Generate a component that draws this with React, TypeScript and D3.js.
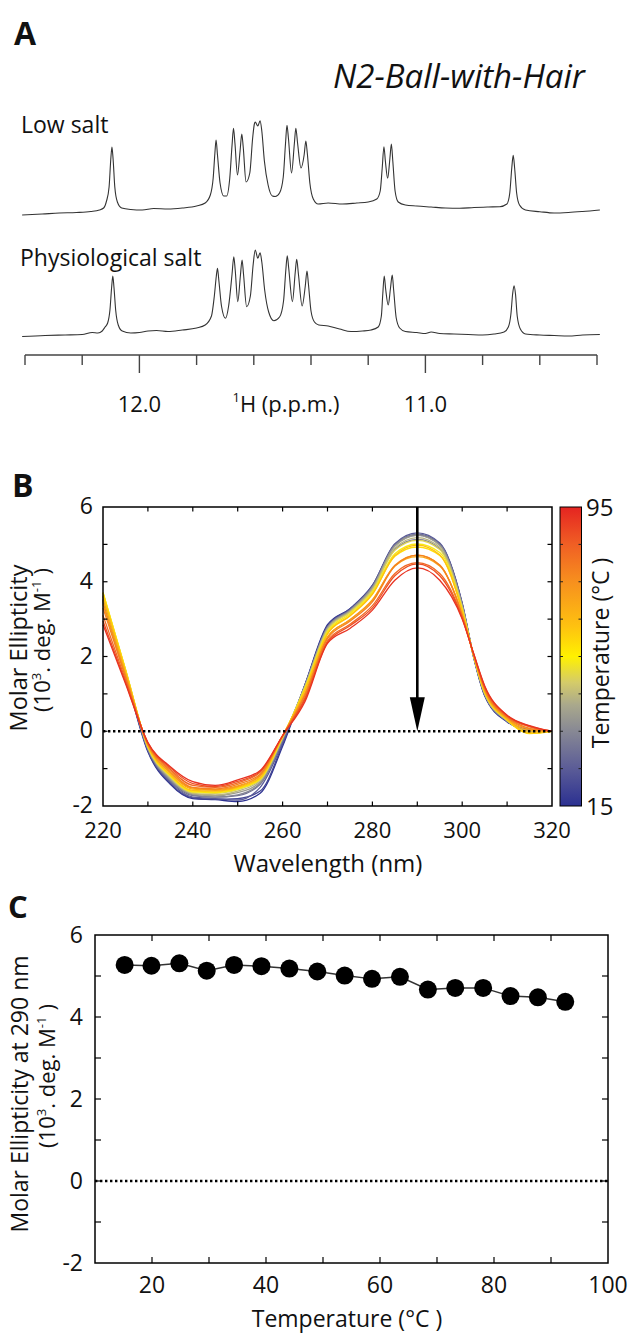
import React from 'react';
import * as d3 from 'd3';

const FONT = '"Open Sans", "Noto Sans", sans-serif';

// ---------- Panel A: 1H NMR imino region (key points [ppm, intensity]) ----------
const lowSaltTrace: [number, number][] = [
  [12.41, -2], [12.34, -1], [12.28, 0], [12.22, 0.5], [12.17, 1.5], [12.14, 3], [12.125, 5],
  [12.115, 12], [12.106, 26], [12.1, 54], [12.096, 66], [12.092, 54], [12.086, 26], [12.077, 11],
  [12.062, 5], [12.03, 3.5], [11.99, 3], [11.95, 4.5], [11.9, 4], [11.85, 5], [11.8, 7], [11.77, 10], [11.752, 18],
  [11.742, 35], [11.736, 60], [11.732, 73], [11.727, 58], [11.718, 30], [11.705, 17], [11.695, 17],
  [11.684, 35], [11.676, 68], [11.671, 84.7], [11.666, 70], [11.657, 38], [11.648, 62], [11.642, 79],
  [11.637, 66], [11.627, 31], [11.614, 40], [11.604, 75], [11.598, 89], [11.595, 91], [11.586, 87],
  [11.578, 92.3], [11.572, 82], [11.563, 52], [11.55, 28], [11.535, 17], [11.525, 16.5], [11.51, 20],
  [11.497, 36], [11.489, 70], [11.484, 87.7], [11.479, 75], [11.468, 40], [11.458, 70], [11.453, 84.7],
  [11.447, 70], [11.435, 45], [11.424, 58], [11.418, 72], [11.413, 60], [11.404, 30], [11.392, 14], [11.375, 9],
  [11.34, 10], [11.29, 9], [11.24, 10], [11.2, 11], [11.17, 14], [11.158, 22],
  [11.151, 45], [11.145, 66.3], [11.14, 52], [11.132, 34.7], [11.124, 55], [11.119, 69], [11.114, 52],
  [11.106, 22], [11.095, 11],
  [11.07, 8], [11.03, 7], [10.98, 6], [10.93, 5], [10.88, 4.7], [10.83, 5.5], [10.78, 6], [10.74, 6.3], [10.715, 9],
  [10.705, 20], [10.698, 45], [10.693, 57.7], [10.688, 45], [10.681, 20], [10.671, 8],
  [10.65, 3], [10.6, 1.3], [10.55, 0], [10.5, 0.5], [10.45, 1.5], [10.39, 3],
];

const physSaltTrace: [number, number][] = [
  [12.41, -0.5], [12.33, 0.5], [12.26, 1], [12.2, 1.5], [12.165, 3.5], [12.145, 3], [12.13, 5], [12.12, 9],
  [12.111, 13], [12.103, 26], [12.097, 49], [12.093, 60], [12.089, 49], [12.083, 26], [12.074, 11],
  [12.06, 5], [12.03, 3], [12.0, 3.5], [11.97, 5], [11.94, 5.5], [11.9, 4.5], [11.85, 6], [11.8, 8], [11.77, 11], [11.748, 20],
  [11.738, 40], [11.731, 60], [11.727, 67.7], [11.722, 55], [11.713, 30], [11.699, 17.7], [11.688, 30],
  [11.676, 62], [11.67, 79.3], [11.665, 66], [11.656, 34.3], [11.647, 60], [11.641, 76], [11.636, 62],
  [11.625, 29.3], [11.612, 40], [11.602, 72], [11.595, 86], [11.586, 77.7], [11.578, 83.3], [11.572, 74],
  [11.562, 46], [11.548, 24], [11.53, 15.3], [11.51, 19], [11.496, 35], [11.488, 66], [11.483, 80.3],
  [11.478, 68], [11.465, 34.3], [11.455, 64], [11.45, 76.7], [11.444, 62], [11.431, 30], [11.42, 50],
  [11.414, 65], [11.409, 52], [11.4, 25], [11.388, 14], [11.373, 11],
  [11.34, 10], [11.3, 7], [11.26, 4.5], [11.22, 5], [11.19, 6], [11.165, 9], [11.154, 20],
  [11.149, 42], [11.144, 60], [11.139, 47], [11.13, 31], [11.122, 48], [11.116, 61], [11.111, 46],
  [11.102, 18], [11.09, 8],
  [11.07, 4.5], [11.03, 3.5], [11.0, 2.5], [10.98, 4], [10.95, 2.5], [10.9, 2], [10.85, 1.5], [10.8, 1],
  [10.76, 2], [10.725, 4], [10.71, 9],
  [10.701, 22], [10.695, 42], [10.69, 50.3], [10.685, 42], [10.679, 20], [10.668, 7],
  [10.65, 2], [10.6, 1], [10.55, 0.5], [10.5, 0], [10.45, 1], [10.39, 1.5],
];

const ppmTicks = [12.4, 12.2, 12.0, 11.8, 11.6, 11.4, 11.2, 11.0, 10.8, 10.6, 10.4];
const ppmMajor = [12.0, 11.0];

// ---------- Panel B: CD spectra at increasing temperature ----------
const wavelengths = [220, 225, 230, 235, 240, 245, 250, 255, 260, 265, 270, 275, 280, 285, 290, 295, 300, 302.5, 305, 310, 315, 320];
const cdTemps = [15.2, 19.9, 24.8, 29.6, 34.4, 39.2, 44.1, 49.0, 53.8, 58.6, 63.5, 68.4, 73.2, 78.1, 82.9, 87.7, 92.5];
const cdSpectra = [
  [3.45, 1.5, -0.55, -1.42, -1.8, -1.83, -1.88, -1.66, -0.4, 1.25, 2.85, 3.28, 3.9, 5.0, 5.27, 5.02, 3.4, 2.0, 0.95, 0.25, 0.03, 0.0],
  [3.5, 1.52, -0.52, -1.4, -1.78, -1.82, -1.8, -1.6, -0.35, 1.25, 2.82, 3.27, 3.88, 4.98, 5.25, 5.0, 3.42, 2.02, 0.97, 0.27, 0.04, 0.01],
  [3.52, 1.55, -0.5, -1.36, -1.76, -1.8, -1.84, -1.5, -0.3, 1.24, 2.8, 3.26, 3.9, 5.02, 5.31, 5.04, 3.43, 2.02, 0.98, 0.27, 0.03, 0.0],
  [3.55, 1.56, -0.48, -1.33, -1.72, -1.76, -1.72, -1.42, -0.25, 1.22, 2.76, 3.22, 3.84, 4.86, 5.13, 4.88, 3.36, 2.03, 1.0, 0.28, 0.04, 0.0],
  [3.6, 1.6, -0.47, -1.3, -1.7, -1.76, -1.7, -1.4, -0.22, 1.22, 2.78, 3.24, 3.86, 4.98, 5.27, 5.0, 3.38, 2.02, 0.99, 0.27, 0.02, 0.0],
  [3.62, 1.62, -0.45, -1.28, -1.68, -1.72, -1.64, -1.36, -0.2, 1.22, 2.76, 3.22, 3.84, 4.95, 5.24, 4.97, 3.36, 2.03, 1.0, 0.28, 0.0, 0.0],
  [3.65, 1.64, -0.44, -1.25, -1.66, -1.7, -1.6, -1.32, -0.18, 1.2, 2.74, 3.2, 3.8, 4.9, 5.18, 4.92, 3.33, 2.03, 1.02, 0.29, -0.02, 0.0],
  [3.7, 1.66, -0.42, -1.22, -1.64, -1.66, -1.56, -1.3, -0.16, 1.18, 2.7, 3.18, 3.76, 4.84, 5.11, 4.86, 3.3, 2.04, 1.03, 0.3, -0.04, 0.01],
  [3.72, 1.66, -0.41, -1.2, -1.62, -1.64, -1.54, -1.28, -0.15, 1.15, 2.66, 3.14, 3.72, 4.75, 5.01, 4.78, 3.26, 2.04, 1.04, 0.3, -0.05, 0.0],
  [3.7, 1.64, -0.4, -1.18, -1.6, -1.62, -1.52, -1.26, -0.14, 1.12, 2.62, 3.1, 3.68, 4.68, 4.93, 4.7, 3.22, 2.05, 1.06, 0.31, -0.06, 0.0],
  [3.62, 1.6, -0.39, -1.16, -1.58, -1.6, -1.5, -1.24, -0.13, 1.1, 2.6, 3.08, 3.66, 4.7, 4.98, 4.72, 3.22, 2.05, 1.07, 0.32, -0.04, 0.0],
  [3.5, 1.56, -0.37, -1.12, -1.55, -1.58, -1.48, -1.2, -0.12, 1.02, 2.52, 2.98, 3.52, 4.42, 4.67, 4.42, 3.12, 2.06, 1.1, 0.34, 0.02, 0.0],
  [3.4, 1.5, -0.36, -1.1, -1.52, -1.56, -1.46, -1.18, -0.12, 1.0, 2.52, 2.98, 3.5, 4.44, 4.71, 4.45, 3.12, 2.06, 1.12, 0.36, 0.06, 0.01],
  [3.3, 1.45, -0.34, -1.06, -1.5, -1.54, -1.42, -1.15, -0.12, 0.96, 2.48, 2.94, 3.46, 4.42, 4.71, 4.44, 3.1, 2.07, 1.14, 0.38, 0.08, 0.0],
  [3.1, 1.38, -0.32, -1.02, -1.45, -1.5, -1.38, -1.1, -0.12, 0.9, 2.42, 2.86, 3.36, 4.22, 4.51, 4.22, 3.05, 2.08, 1.17, 0.4, 0.12, 0.01],
  [2.95, 1.32, -0.31, -0.98, -1.4, -1.48, -1.34, -1.08, -0.12, 0.86, 2.38, 2.82, 3.3, 4.16, 4.48, 4.16, 3.02, 2.09, 1.2, 0.42, 0.14, 0.0],
  [2.85, 1.28, -0.3, -0.95, -1.35, -1.45, -1.3, -1.05, -0.12, 0.8, 2.35, 2.75, 3.24, 4.04, 4.37, 4.04, 3.0, 2.1, 1.22, 0.43, 0.15, 0.0],
];
const cdXTicks = [220, 230, 240, 250, 260, 270, 280, 290, 300, 310, 320];
const cdXLabels = [220, 240, 260, 280, 300, 320];
const cdYTicks = [-2, -1, 0, 1, 2, 3, 4, 5, 6];
const cdYLabels = [-2, 0, 2, 4, 6];
const arrowWavelength = 290;

// colour map of the temperature bar
const cmapTemps = [15, 25, 35, 42, 48, 55, 63, 75, 85, 95];
const cmapColors = ['#2b3091', '#5b5c97', '#878894', '#a9a88c', '#d4cb6a', '#fff100', '#fec210', '#f7901e', '#f05f24', '#e52421'];
const cbTicks = [25, 35, 45, 55, 65, 75, 85];
const cbLabels = [15, 95];

// ---------- Panel C: ellipticity at 290 nm vs temperature ----------
const meltTemps = [15.2, 19.9, 24.8, 29.6, 34.4, 39.2, 44.1, 49.0, 53.8, 58.6, 63.5, 68.4, 73.2, 78.1, 82.9, 87.7, 92.5];
const meltValues = [5.27, 5.25, 5.31, 5.13, 5.27, 5.24, 5.18, 5.11, 5.01, 4.93, 4.98, 4.67, 4.71, 4.71, 4.51, 4.48, 4.37];
const meltXTicks = [20, 30, 40, 50, 60, 70, 80, 90];
const meltXLabels = [20, 40, 60, 80, 100];
const meltYTicks = [-1, 0, 1, 2, 3, 4, 5];
const meltYLabels = [-2, 0, 2, 4, 6];

const UnitsLabel = ({ x, y, size }: { x: number; y: number; size: number }) => (
  <text transform={`translate(${x},${y}) rotate(-90)`} textAnchor="middle" fontSize={size}>
    (10<tspan dy={-9} fontSize={size * 0.6}>3</tspan>
    <tspan dy={9}>. deg. M</tspan>
    <tspan dy={-9} fontSize={size * 0.6}>-1</tspan>
    <tspan dy={9}> )</tspan>
  </text>
);

export default function App() {
  // Panel A scales
  const xPpm = d3.scaleLinear().domain([12.4, 10.4]).range([25, 597]);
  const yLow = d3.scaleLinear().domain([0, 100]).range([213, 113]);
  const yPhys = d3.scaleLinear().domain([0, 100]).range([336, 236]);
  const lineLow = d3.line<[number, number]>().x(d => xPpm(d[0])).y(d => yLow(d[1])).curve(d3.curveMonotoneX);
  const linePhys = d3.line<[number, number]>().x(d => xPpm(d[0])).y(d => yPhys(d[1])).curve(d3.curveMonotoneX);
  const axisY = 355;

  // Panel B scales
  const bL = 103, bR = 552, bT = 507, bB = 806;
  const xB = d3.scaleLinear().domain([220, 320]).range([bL, bR]);
  const yB = d3.scaleLinear().domain([-2, 6]).range([bB, bT]);
  const color = d3.scaleLinear<string>().domain(cmapTemps).range(cmapColors).interpolate(d3.interpolateRgb);
  const cdLine = d3.line<number>().x((_, i) => xB(wavelengths[i])).y(d => yB(d)).curve(d3.curveMonotoneX);
  const cbL = 560, cbR = 581.5;
  const yCb = d3.scaleLinear().domain([15, 95]).range([bB, bT]);
  const ax = xB(arrowWavelength);
  const tipY = yB(0);

  // Panel C scales
  const cL = 95, cR = 608, cT = 935, cB = 1263;
  const xC = d3.scaleLinear().domain([10, 100]).range([cL, cR]);
  const yC = d3.scaleLinear().domain([-2, 6]).range([cB, cT]);
  const meltLine = d3.line<number>().x((_, i) => xC(meltTemps[i])).y(d => yC(d));

  const tick = 4.5;
  const ctick = 6;

  return (
    <svg width={631} height={1335} style={{ position: 'absolute', left: 0, top: 0, background: '#fff' }}
      fontFamily={FONT} fill="#111">
      <defs>
        <linearGradient id="cbar" x1="0" y1="1" x2="0" y2="0">
          {cmapTemps.map((t, i) => (
            <stop key={t} offset={(t - 15) / 80} stopColor={cmapColors[i]} />
          ))}
        </linearGradient>
      </defs>

      {/* ---------------- Panel A ---------------- */}
      <text x={14} y={45} fontSize={32} fontWeight="bold">A</text>
      <text x={459} y={88} fontSize={33} fontStyle="italic" textAnchor="middle">N2-Ball-with-Hair</text>
      <text x={21} y={133} fontSize={23}>Low salt</text>
      <text x={20} y={266} fontSize={23}>Physiological salt</text>
      <path d={lineLow(lowSaltTrace) || ''} fill="none" stroke="#333" strokeWidth={1.1} />
      <path d={linePhys(physSaltTrace) || ''} fill="none" stroke="#333" strokeWidth={1.1} />
      <line x1={xPpm(12.4)} x2={xPpm(10.4)} y1={axisY} y2={axisY} stroke="#444" strokeWidth={1.4} />
      {ppmTicks.map(t => (
        <line key={t} x1={xPpm(t)} x2={xPpm(t)} y1={axisY}
          y2={axisY + (ppmMajor.includes(t) ? 18 : 10)} stroke="#444" strokeWidth={1.4} />
      ))}
      {ppmMajor.map(t => (
        <text key={t} x={xPpm(t)} y={412} fontSize={22} textAnchor="middle">{t.toFixed(1)}</text>
      ))}
      <text x={286} y={412} fontSize={22} textAnchor="middle">
        <tspan fontSize={13} dy={-10}>1</tspan><tspan dy={10}>H (p.p.m.)</tspan>
      </text>

      {/* ---------------- Panel B ---------------- */}
      <text x={12} y={497} fontSize={32} fontWeight="bold">B</text>
      <g>
        {cdSpectra.map((s, i) => (
          <path key={i} d={cdLine(s) || ''} fill="none" stroke={color(cdTemps[i])} strokeWidth={1.3} />
        ))}
      </g>
      <line x1={bL} x2={bR} y1={yB(0)} y2={yB(0)} stroke="#000" strokeWidth={2.4} strokeDasharray="2.4 2.6" />
      <line x1={ax} x2={ax} y1={bT} y2={tipY - 20} stroke="#000" strokeWidth={2.6} />
      <path d={`M${ax - 7.5},${tipY - 34}L${ax + 7.5},${tipY - 34}L${ax},${tipY}Z`} fill="#000" />
      <rect x={bL} y={bT} width={bR - bL} height={bB - bT} fill="none" stroke="#000" strokeWidth={1.5} />
      {cdXTicks.slice(1, -1).map(t => (
        <g key={t}>
          <line x1={xB(t)} x2={xB(t)} y1={bB} y2={bB - tick} stroke="#000" strokeWidth={1.2} />
          <line x1={xB(t)} x2={xB(t)} y1={bT} y2={bT + tick} stroke="#000" strokeWidth={1.2} />
        </g>
      ))}
      {cdYTicks.slice(1, -1).map(t => (
        <g key={t}>
          <line x1={bL} x2={bL + tick} y1={yB(t)} y2={yB(t)} stroke="#000" strokeWidth={1.2} />
          <line x1={bR} x2={bR - tick} y1={yB(t)} y2={yB(t)} stroke="#000" strokeWidth={1.2} />
        </g>
      ))}
      {cdXLabels.map(t => (
        <text key={t} x={xB(t)} y={838} fontSize={22} textAnchor="middle">{t}</text>
      ))}
      {cdYLabels.map(t => (
        <text key={t} x={93} y={yB(t) + 7} fontSize={23} textAnchor="end">{t}</text>
      ))}
      <text x={328} y={872} fontSize={24} textAnchor="middle">Wavelength (nm)</text>
      <text transform="translate(27,648) rotate(-90)" textAnchor="middle" fontSize={23.5}>Molar Ellipticity</text>
      <UnitsLabel x={50} y={640} size={22} />

      {/* colour bar */}
      <rect x={cbL} y={bT} width={cbR - cbL} height={bB - bT} fill="url(#cbar)" stroke="#000" strokeWidth={1} />
      {cbTicks.map(t => (
        <g key={t}>
          <line x1={cbL} x2={cbL + 3} y1={yCb(t)} y2={yCb(t)} stroke="#222" strokeWidth={1} />
          <line x1={cbR} x2={cbR - 3} y1={yCb(t)} y2={yCb(t)} stroke="#222" strokeWidth={1} />
        </g>
      ))}
      {cbLabels.map(t => (
        <text key={t} x={586} y={yCb(t) + 9} fontSize={24}>{t}</text>
      ))}
      <text transform={`translate(609,653) rotate(-90)`} textAnchor="middle" fontSize={23}>Temperature (°C )</text>

      {/* ---------------- Panel C ---------------- */}
      <text x={8} y={918} fontSize={31} fontWeight="bold">C</text>
      <line x1={cL} x2={cR} y1={yC(0)} y2={yC(0)} stroke="#000" strokeWidth={2.4} strokeDasharray="2.4 2.6" />
      <path d={meltLine(meltValues) || ''} fill="none" stroke="#333" strokeWidth={1.5} />
      {meltValues.map((v, i) => (
        <circle key={i} cx={xC(meltTemps[i])} cy={yC(v)} r={9} fill="#000" />
      ))}
      <rect x={cL} y={cT} width={cR - cL} height={cB - cT} fill="none" stroke="#000" strokeWidth={1.5} />
      {meltXTicks.map(t => (
        <g key={t}>
          <line x1={xC(t)} x2={xC(t)} y1={cB} y2={cB - ctick} stroke="#000" strokeWidth={1.2} />
          <line x1={xC(t)} x2={xC(t)} y1={cT} y2={cT + ctick} stroke="#000" strokeWidth={1.2} />
        </g>
      ))}
      {meltYTicks.map(t => (
        <g key={t}>
          <line x1={cL} x2={cL + ctick} y1={yC(t)} y2={yC(t)} stroke="#000" strokeWidth={1.2} />
          <line x1={cR} x2={cR - ctick} y1={yC(t)} y2={yC(t)} stroke="#000" strokeWidth={1.2} />
        </g>
      ))}
      {meltXLabels.map(t => (
        <text key={t} x={xC(t)} y={1293} fontSize={23} textAnchor="middle">{t}</text>
      ))}
      {meltYLabels.map(t => (
        <text key={t} x={83} y={yC(t) + 8} fontSize={23} textAnchor="end">{t}</text>
      ))}
      <text x={347} y={1327} fontSize={23} textAnchor="middle">Temperature (°C )</text>
      <text transform="translate(28,1094) rotate(-90)" textAnchor="middle" fontSize={23}>Molar Ellipticity at 290 nm</text>
      <UnitsLabel x={55} y={1076} size={22} />
    </svg>
  );
}
